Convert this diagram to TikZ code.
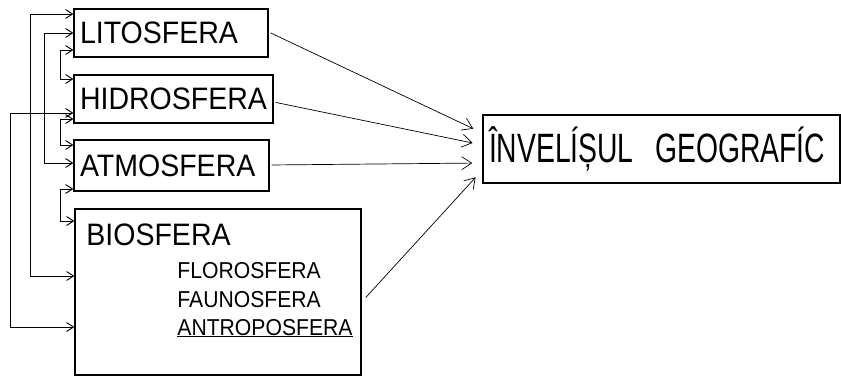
\documentclass[tikz,border=0pt]{standalone}
\usepackage{fontspec}
\setmainfont{Liberation Sans}[FakeStretch=0.92]
\newfontfamily\narrowfont{Liberation Sans}[FakeStretch=0.69]
\usetikzlibrary{arrows.meta}

\begin{document}
\begin{tikzpicture}[x=1pt, y=-1pt, >={Straight Barb[length=7pt,width=9pt]}, line width=0.8pt]

\tikzstyle{sphere}=[draw, rectangle, line width=1.3pt, inner xsep=6pt, inner ysep=0pt, align=left, font=\fontsize{31}{31}\selectfont]
\tikzstyle{sub}=[anchor=base west, inner sep=0pt, font=\fontsize{23}{23}\selectfont]
\tikzstyle{link}=[<->, line width=0.9pt]
\tikzstyle{flow}=[->, >={Straight Barb[length=10pt,width=13pt]}, line width=0.7pt, shorten >=10pt, shorten <=2pt]

\useasboundingbox (0,0) rectangle (841,377);

% spheres
\node[sphere, text width=182pt, minimum height=48pt] (lito) at (171,33) {LITOSFERA};
\node[sphere, text width=187pt, minimum height=48pt] (hidro) at (173.5,99) {HIDROSFERA};
\node[sphere, text width=183pt, minimum height=51pt] (atmo) at (171.5,165.5) {ATMOSFERA};
\node[sphere, minimum width=286pt, minimum height=166pt] (bio) at (218,292) {};
\node[sub, font=\fontsize{31}{31}\selectfont] (bioname) at (86,245) {BIOSFERA};
\node[sub] (flora) at (177,278) {FLOROSFERA};
\node[sub] (fauna) at (177,307) {FAUNOSFERA};
\node[sub] (antropo) at (177,335) {\underline{ANTROPOSFERA}};

\node[sphere, text width=345pt, minimum height=68pt, font=\narrowfont\fontsize{41}{41}\selectfont] (inv) at (661.5,149) {ÎNVELÍȘUL\hspace{8pt} GEOGRAFÍC};

% links between spheres
\draw[link] (hidro.west |- 0,113) -- (10,113) -- (10,327) -- (bio.west |- 0,327);
\draw[link] (lito.west |- 0,14) -- (30,14) -- (30,276) -- (bio.west |- 0,276);
\draw[link] (lito.west |- 0,33) -- (44,33) -- (44,163) -- (atmo.west |- 0,163);
\draw[link] (lito.west |- 0,50) -- (60,50) -- (60,79) -- (hidro.west |- 0,79);
\draw[link] (hidro.west |- 0,119) -- (60,119) -- (60,145) -- (atmo.west |- 0,145);
\draw[link] (atmo.west |- 0,189) -- (60,189) -- (60,221) -- (bio.west |- 0,221);

% towards the geographic envelope
\draw[flow] (lito.east |- 0,32) -- (inv.west |- 0,133);
\draw[flow] (hidro.east |- 0,102) -- (inv.west |- 0,145);
\draw[flow] (atmo.east |- 0,165) -- (inv.west |- 0,163);
\draw[flow, shorten <=6pt] (bio.east |- 0,302) -- (inv.west |- 0,170);

\end{tikzpicture}
\end{document}
